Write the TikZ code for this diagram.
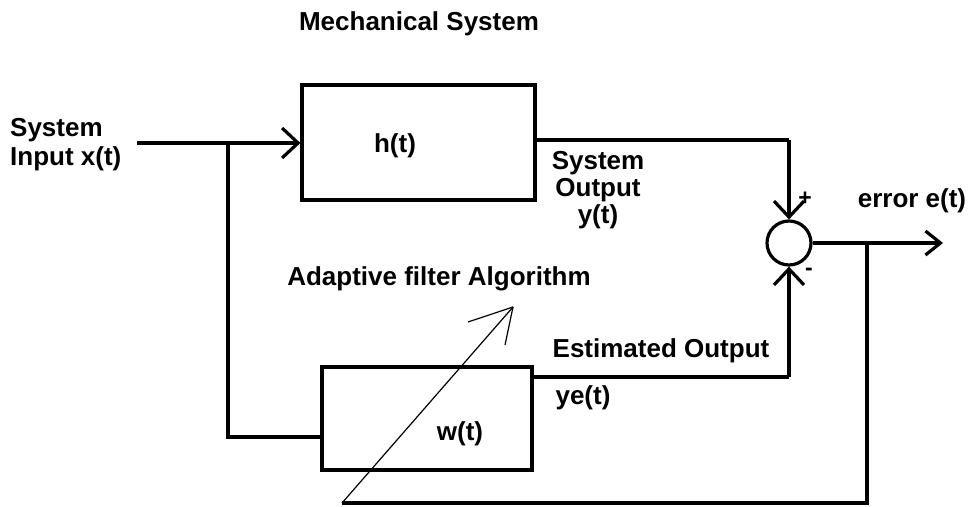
\documentclass[tikz,border=0pt]{standalone}
\usepackage{fontspec}
\setmainfont{Liberation Sans}
\usetikzlibrary{arrows.meta}
\begin{document}
\begin{tikzpicture}[x=1pt,y=-1pt,
  wire/.style={line width=3.2pt},
  tipped/.style={wire,-{Straight Barb[length=16pt,width=30pt]}},
  blk/.style={draw,line width=3.2pt,rectangle,inner sep=0pt},
  sumnode/.style={draw,line width=3.2pt,circle,minimum size=44pt,inner sep=0pt},
  thinline/.style={line width=1.2pt},
  lbl/.style={font=\bfseries\fontsize{26}{27}\selectfont, inner sep=0pt},
  signlbl/.style={font=\bfseries\fontsize{23}{24}\selectfont, inner sep=0pt}]
\useasboundingbox (0,0) rectangle (974,506);
% blocks
\node[blk, minimum width=233pt, minimum height=115pt] (h) at (418.5,142.5) {};
\node[blk, minimum width=210pt, minimum height=103pt] (w) at (427,418.5) {};
\node[sumnode] (s) at (789,243) {};
% coordinates
\coordinate (in) at (137,143);
\coordinate (br) at (228,143);
\coordinate (br2) at (228,437);
\coordinate (hout) at (535,140);
\coordinate (c1) at (789,140);
\coordinate (wout) at (532,377);
\coordinate (c2) at (789,377);
\coordinate (eout) at (943,243);
\coordinate (fb) at (867,243);
\coordinate (fb1) at (867,503);
\coordinate (fb2) at (342,503);
\coordinate (adapt) at (513,307);
% connectors
\draw[tipped] (in) -- (in -| h.west);
\draw[wire] (br) -- (br2) -- (br2 -| w.west);
\draw[wire] (hout) -- (c1);
\draw[tipped] (c1) -- (s.north);
\draw[wire] (wout) -- (c2);
\draw[tipped] (c2) -- (s.south);
\draw[tipped,-{Straight Barb[length=15pt,width=24pt]}] (s.east) -- (eout);
\draw[wire] (fb) -- (fb1) -- (fb2);
\draw[thinline] (fb2) -- (adapt);
\draw[thinline] (adapt) -- ++(-45,15);
\draw[thinline] (adapt) -- ++(-8,38);
% labels
\node[lbl] (mech) at (419,24) {Mechanical System};
\node[lbl, align=left, anchor=west, font=\bfseries\fontsize{26}{29}\selectfont] (inlbl) at (10,145) {System\\Input x(t)};
\node[lbl] (hl) at (395,146) {h(t)};
\node[lbl, align=center] (yl) at (598,190) {System\\Output\\y(t)};
\node[signlbl] (plus) at (805,199) {+};
\node[signlbl] (minus) at (809,272) {-};
\node[lbl] (el) at (912,201) {error e(t)};
\node[lbl] (al) at (439,279) {Adaptive filter Algorithm};
\node[lbl] (estl) at (661,351) {Estimated Output};
\node[lbl] (yel) at (583,398) {ye(t)};
\node[lbl] (wl) at (460,434) {w(t)};
\end{tikzpicture}
\end{document}
